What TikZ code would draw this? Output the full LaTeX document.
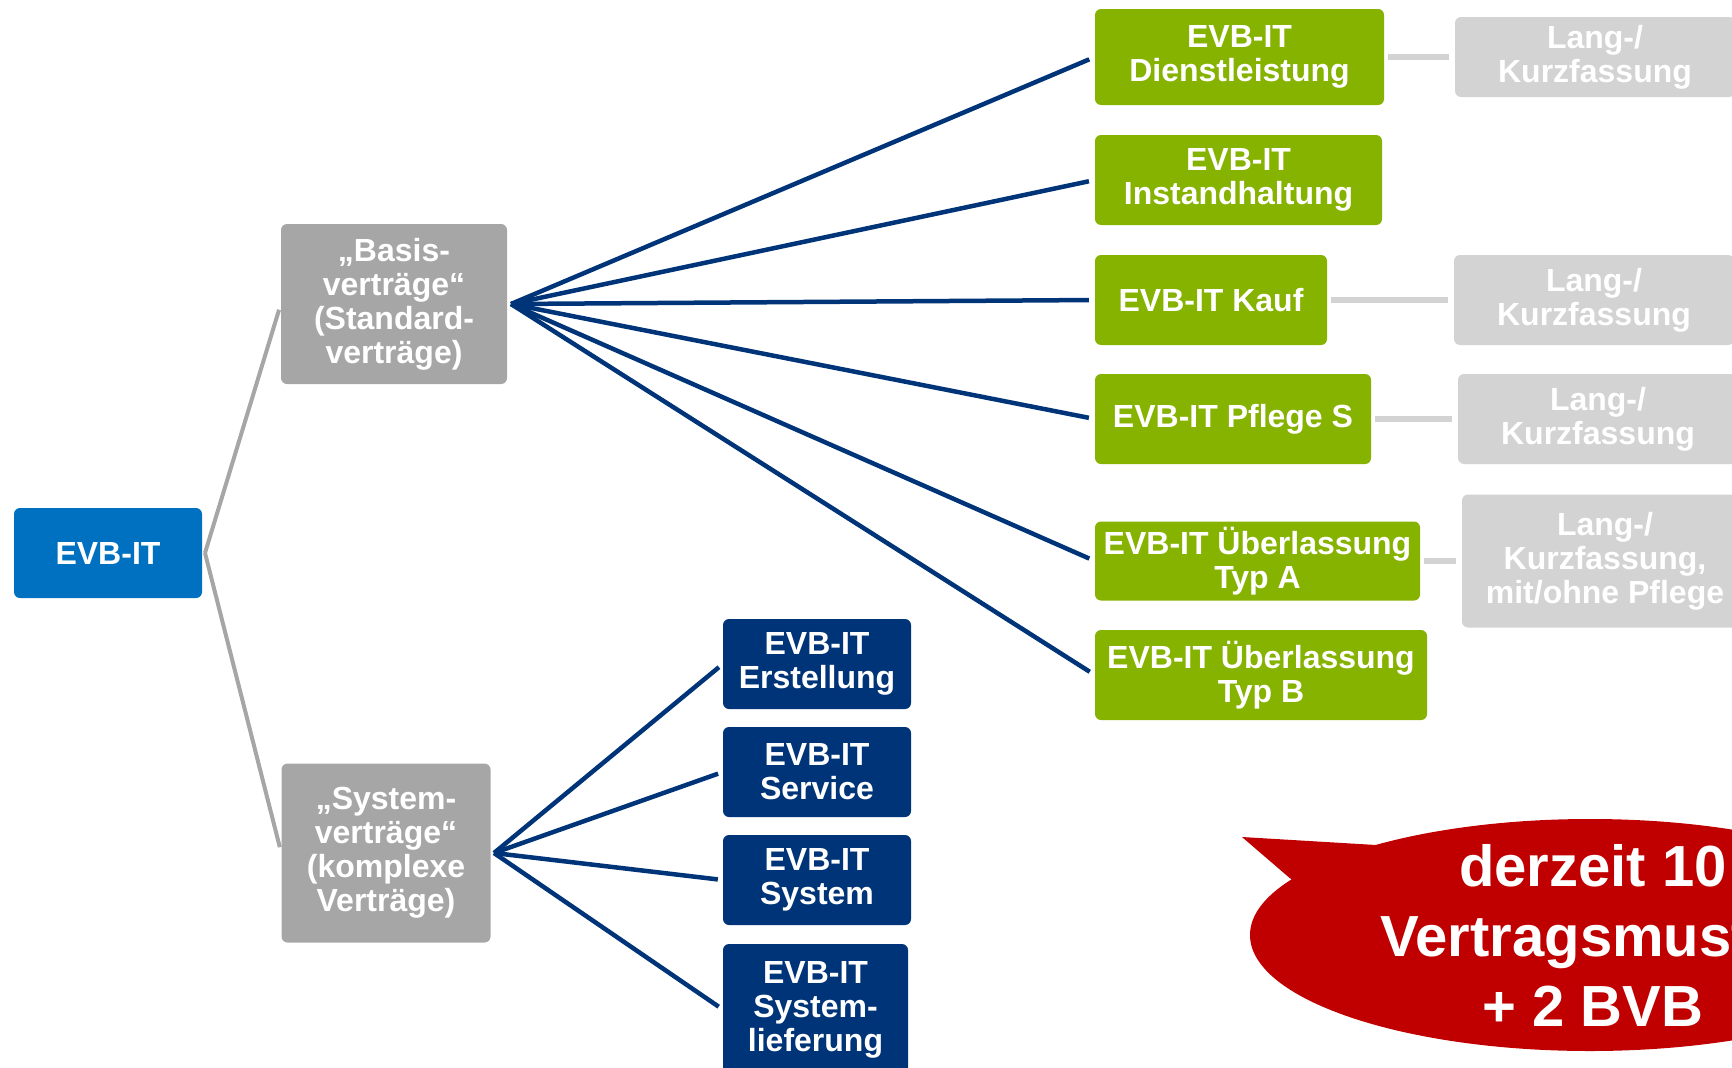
\documentclass[tikz,border=0pt]{standalone}
\usepackage{fontspec}
\setmainfont{Liberation Sans}
\definecolor{rootblue}{RGB}{0,112,192}
\definecolor{boxgray}{RGB}{166,166,166}
\definecolor{evbgreen}{RGB}{134,178,0}
\definecolor{navyblue}{RGB}{0,52,120}
\definecolor{lightbox}{RGB}{211,211,211}
\definecolor{calloutred}{RGB}{192,0,0}
\begin{document}
\begin{tikzpicture}[x=1pt,y=-1pt,
  box/.style={rounded corners=6pt, text=white, font=\fontsize{32}{34}\selectfont\bfseries, align=center, inner sep=0pt},
  rootbox/.style={box, fill=rootblue},
  graybox/.style={box, fill=boxgray},
  greenbox/.style={box, fill=evbgreen},
  navybox/.style={box, fill=navyblue},
  lightgraybox/.style={box, fill=lightbox},
  grayline/.style={draw=boxgray, line width=4pt},
  blueline/.style={draw=navyblue, line width=4.5pt},
  lightline/.style={draw=lightbox, line width=5.5pt}
]
\useasboundingbox (0,0) rectangle (1732,1068);
\clip (0,0) rectangle (1732,1068);

% callout
\fill[calloutred] (1590,935) ellipse [x radius=340, y radius=116];
\fill[calloutred] (1242,837) -- (1376,845) -- (1292,880) -- cycle;
\node[text=white, font=\fontsize{58}{70}\selectfont\bfseries, align=center, inner sep=0pt] (callout) at (1593,935) {derzeit 10\\Vertragsmuster\\+ 2 BVB};

% main nodes
\node[rootbox, minimum width=188pt, minimum height=90pt] (root) at (108,553) {EVB-IT};
\node[graybox, minimum width=226pt, minimum height=160pt] (basis) at (394,304) {„Basis-\\verträge“\\(Standard-\\verträge)};
\node[graybox, minimum width=209pt, minimum height=179pt] (system) at (386,853) {„System-\\verträge“\\(komplexe\\Verträge)};

% green nodes
\node[greenbox, minimum width=289pt, minimum height=96pt] (g1) at (1239.5,57) {EVB-IT\\Dienstleistung};
\node[greenbox, minimum width=287pt, minimum height=90pt] (g2) at (1238.5,180) {EVB-IT\\Instandhaltung};
\node[greenbox, minimum width=232pt, minimum height=90pt] (g3) at (1211,300) {EVB-IT Kauf};
\node[greenbox, minimum width=276pt, minimum height=90pt] (g4) at (1233,419) {EVB-IT Pflege S};
\node[greenbox, minimum width=325pt, minimum height=79pt] (g5) at (1257.5,561) {EVB-IT Überlassung\\Typ A};
\node[greenbox, minimum width=332pt, minimum height=90pt] (g6) at (1261,675) {EVB-IT Überlassung\\Typ B};

% light gray nodes
\node[lightgraybox, minimum width=280pt, minimum height=80pt] (l1) at (1595,57) {Lang-/\\Kurzfassung};
\node[lightgraybox, minimum width=280pt, minimum height=90pt] (l2) at (1594,300) {Lang-/\\Kurzfassung};
\node[lightgraybox, minimum width=280pt, minimum height=90pt] (l3) at (1598,419) {Lang-/\\Kurzfassung};
\node[lightgraybox, minimum width=286pt, minimum height=133pt] (l4) at (1605,561) {Lang-/\\Kurzfassung,\\mit/ohne Pflege};

% navy nodes
\node[navybox, minimum width=188pt, minimum height=90pt] (n1) at (817,664) {EVB-IT\\Erstellung};
\node[navybox, minimum width=188pt, minimum height=90pt] (n2) at (817,772) {EVB-IT\\Service};
\node[navybox, minimum width=188pt, minimum height=90pt] (n3) at (817,880) {EVB-IT\\System};
\node[navybox, minimum width=185pt, minimum height=131pt] (n4) at (815.5,1009.5) {EVB-IT\\System-\\lieferung};

% connectors
\coordinate (bR) at (511,304);
\coordinate (sR) at (494,853);
\coordinate (rR) at (205,553);
\draw[grayline, shorten >=6pt] (rR) -- (basis.west);
\draw[grayline, shorten >=6pt] (rR) -- (system.west);
\foreach \g in {g1,g2,g3,g4,g5,g6}{
  \draw[blueline, shorten >=6pt] (bR) -- (\g.west);
}
\foreach \n in {n1,n2,n3,n4}{
  \draw[blueline, shorten >=5pt] (sR) -- (\n.west);
}
\draw[lightline, shorten <=4pt, shorten >=6pt] (g1.east) -- (l1.west);
\draw[lightline, shorten <=4pt, shorten >=6pt] (g3.east) -- (l2.west);
\draw[lightline, shorten <=4pt, shorten >=6pt] (g4.east) -- (l3.west);
\draw[lightline, shorten <=4pt, shorten >=6pt] (g5.east) -- (l4.west);
\end{tikzpicture}
\end{document}
